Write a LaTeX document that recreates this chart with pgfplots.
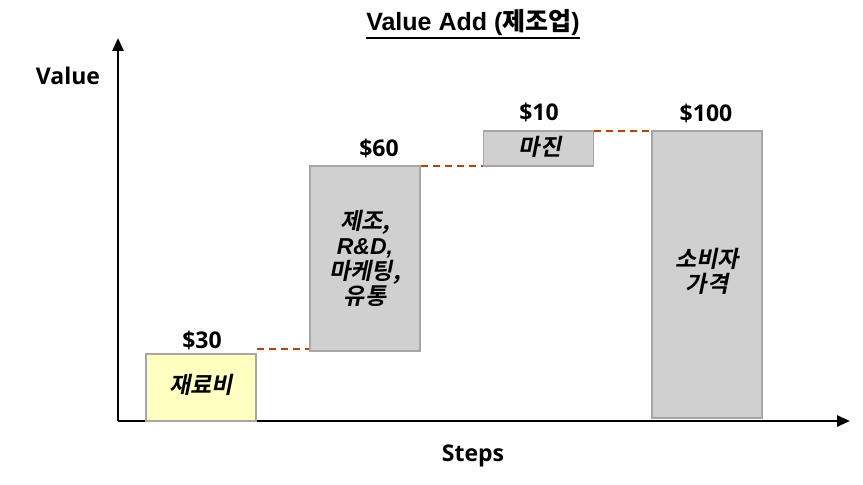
\documentclass[border=0pt]{standalone}
\usepackage{pgfplots}
\pgfplotsset{compat=1.18}
\usetikzlibrary{arrows.meta}
\usepackage{fontspec}
\setmainfont{Liberation Sans}
\newfontfamily\cjk{Noto Sans CJK KR Bold}
\newfontfamily\cjkit{Noto Sans CJK KR Bold}[FakeSlant=0.2]
\newfontfamily\lab{Open Sans}
\newcommand{\myul}[1]{\vbox{\hbox{#1}\kern1pt\hrule height 2pt}}
\definecolor{barfill}{RGB}{208,208,208}
\definecolor{bardraw}{RGB}{166,166,166}
\definecolor{yfill}{RGB}{255,255,192}
\definecolor{dashc}{RGB}{192,64,0}
\begin{document}
\begin{tikzpicture}[x=1pt,y=1pt]
\path[use as bounding box] (0,0) rectangle (863,485);
\begin{axis}[
  at={(118pt,64pt)}, anchor=south west,
  scale only axis, width=732pt, height=383pt,
  xmin=118, xmax=850, ymin=0, ymax=383,
  axis x line=bottom, axis y line=left,
  axis line style={line width=2.5pt, -{Triangle[length=13pt,width=11pt]}},
  xtick=\empty, ytick=\empty,
  clip=false,
  ybar stacked, bar width=110,
]
\addplot[draw=none, fill=none] coordinates {(201,0) (365,70) (538.5,255) (707,3)};
\addplot[fill=yfill, draw=bardraw, line width=1.5pt] coordinates {(201,67) (365,0) (538.5,0) (707,0)};
\addplot[fill=barfill, draw=bardraw, line width=1.5pt] coordinates {(201,0) (365,185) (538.5,35) (707,287)};
\addplot[stack plots=false, sharp plot, dashed, dashc, line width=1.5pt, dash pattern=on 7pt off 5pt] coordinates {(257,72) (309,72)};
\addplot[stack plots=false, sharp plot, dashed, dashc, line width=1.5pt, dash pattern=on 7pt off 5pt] coordinates {(421,255) (483,255)};
\addplot[stack plots=false, sharp plot, dashed, dashc, line width=1.5pt, dash pattern=on 7pt off 5pt] coordinates {(594,290) (651,290)};

\coordinate (ttl) at (axis cs:473,397);
\coordinate (yl) at (axis cs:68,345);
\coordinate (xl) at (axis cs:473,-35);
\coordinate (v1) at (axis cs:202,81);
\coordinate (v2) at (axis cs:379,273);
\coordinate (v3) at (axis cs:539,309);
\coordinate (v4) at (axis cs:706,308);
\coordinate (b1) at (axis cs:201,36);
\coordinate (b2) at (axis cs:365,163);
\coordinate (b3) at (axis cs:540,274);
\coordinate (b4) at (axis cs:707,150);
\end{axis}
\node[inner sep=0pt, font=\fontsize{25}{29}\selectfont\bfseries] at (ttl) {\myul{Value Add ({\cjk 제조업})}};
\node[font=\fontsize{23}{28}\selectfont\lab\bfseries] at (yl) {Value};
\node[font=\fontsize{23}{28}\selectfont\lab\bfseries] at (xl) {Steps};

\node[font=\fontsize{23}{28}\selectfont\lab\bfseries] at (v1) {\$30};
\node[font=\fontsize{23}{28}\selectfont\lab\bfseries] at (v2) {\$60};
\node[font=\fontsize{23}{28}\selectfont\lab\bfseries] at (v3) {\$10};
\node[font=\fontsize{23}{28}\selectfont\lab\bfseries] at (v4) {\$100};

\node[font=\fontsize{23}{25}\selectfont\cjkit] at (b1) {재료비};
\node[align=center, font=\fontsize{23}{25}\selectfont\cjkit] at (b2) {제조,\\{\rmfamily\bfseries\itshape R\&D,}\\마케팅,\\유통};
\node[font=\fontsize{23}{25}\selectfont\cjkit] at (b3) {마진};
\node[align=center, font=\fontsize{23}{25}\selectfont\cjkit] at (b4) {소비자\\가격};
\end{tikzpicture}
\end{document}
